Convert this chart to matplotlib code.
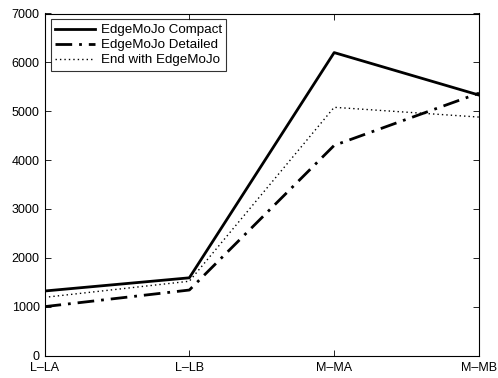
import matplotlib
matplotlib.use("Agg")
import matplotlib.pyplot as plt

categories = ["L\u2013LA", "L\u2013LB", "M\u2013MA", "M\u2013MB"]
compact = [1320, 1590, 6200, 5330]
detailed = [1000, 1340, 4300, 5370]
end_with = [1190, 1520, 5080, 4880]

plt.rcParams['font.family'] = ['Liberation Sans', 'DejaVu Sans']
fig = plt.figure(figsize=(4.98, 3.78), dpi=100)
ax = fig.add_axes([44.5/498, 1 - 355.5/378, (479-44.5)/498, (355.5-13.5)/378])
x = list(range(len(categories)))
ax.plot(x, compact, color='black', lw=2, ls='-', label='EdgeMoJo Compact')
ax.plot(x, detailed, color='black', lw=2, ls=(0, (6, 2.5, 1, 2.5)), label='EdgeMoJo Detailed')
ax.plot(x, end_with, color='black', lw=1, ls=(0, (1, 2.2)), label='End with EdgeMoJo')
ax.set_xlim(0, 3)
ax.set_ylim(0, 7000)
ax.set_xticks(x)
ax.set_xticklabels(categories)
ax.set_yticks(range(0, 7001, 1000))
ax.tick_params(direction='in', top=True, right=True, labelsize=9, length=4, width=0.6, pad=3.5)
ax.tick_params(axis='x', pad=5)
for s in ax.spines.values():
    s.set_linewidth(0.8)
leg = ax.legend(loc='upper left', fontsize=9.6, frameon=True, fancybox=False,
                edgecolor='black', bbox_to_anchor=(6/434, 1 - 6/342), borderaxespad=0,
                handlelength=3.0, handletextpad=0.4,
                labelspacing=0.2, borderpad=0.35)
leg.get_frame().set_linewidth(0.8)
fig.savefig('out.png', dpi=100)
